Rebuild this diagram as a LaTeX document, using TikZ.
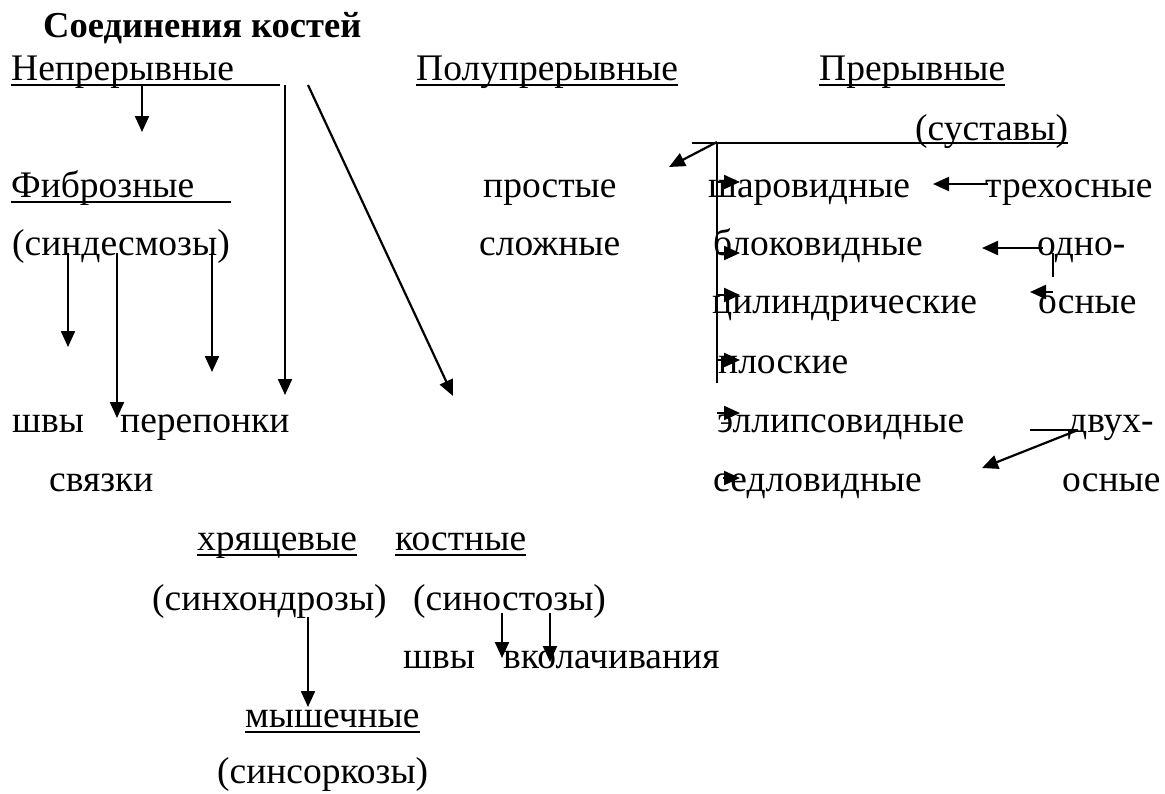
\documentclass[tikz,border=0pt]{standalone}
\usepackage{fontspec}
\setmainfont{Liberation Serif}
\usetikzlibrary{arrows.meta}
\begin{document}
\begin{tikzpicture}[x=1pt,y=-1pt,
  t/.style={anchor=base west,inner sep=0pt,font=\fontsize{37.5}{45}\selectfont},
  ttl/.style={anchor=base west,inner sep=0pt,font=\fontsize{36.5}{45}\selectfont\bfseries},
  ln/.style={line width=2.2pt},
  ar/.style={line width=2.2pt,-{Triangle[length=16pt,width=14pt]}}]
\useasboundingbox (0,0) rectangle (1165,793);
% title
\node[ttl] (title) at (43,37) {Соединения костей};
% row 1
\node[t] (nep) at (11,80) {Непрерывные};
\node[t] (polu) at (416,80) {Полупрерывные};
\node[t] (prer) at (819,80) {Прерывные};
\node[t] (sust) at (915,140) {(суставы)};
% row 3
\node[t] (fib) at (11,197) {Фиброзные};
\node[t] (prost) at (483,197) {простые};
\node[t] (shar) at (708,197) {шаровидные};
\node[t] (treh) at (985,197) {трехосные};
% row 4
\node[t] (sind) at (12,255) {(синдесмозы)};
\node[t] (slozh) at (479,255) {сложные};
\node[t] (blok) at (713,255) {блоковидные};
\node[t] (odno) at (1037,255) {одно-};
% row 5
\node[t] (cil) at (712,313) {цилиндрические};
\node[t] (osn1) at (1038,313) {осные};
% row 6
\node[t] (plos) at (718,373) {плоские};
% row 7
\node[t] (shvy) at (12,432) {швы};
\node[t] (perep) at (120,432) {перепонки};
\node[t] (ellip) at (717,432) {эллипсовидные};
\node[t] (dvuh) at (1068,432) {двух-};
% row 8
\node[t] (svyaz) at (49,491) {связки};
\node[t] (sedl) at (713,491) {седловидные};
\node[t] (osn2) at (1062,491) {осные};
% lower part
\node[t] (hryash) at (197,550) {хрящевые};
\node[t] (kost) at (395,550) {костные};
\node[t] (sinh) at (152,610) {(синхондрозы)};
\node[t] (sinost) at (413,610) {(синостозы)};
\node[t] (shvy2) at (403,668) {швы};
\node[t] (vkol) at (503,668) {вколачивания};
\node[t] (mysh) at (245,727) {мышечные};
\node[t] (sinsork) at (217,783) {(синсоркозы)};
% underlines
\coordinate (nepEnd) at (280,85);
\draw[ln] ([yshift=-5pt]nep.base west) -- (nepEnd);
\draw[ln] ([yshift=-5pt]polu.base west) -- ([yshift=-5pt]polu.base east);
\draw[ln] ([yshift=-5pt]prer.base west) -- ([yshift=-5pt]prer.base east);
\coordinate (sustStart) at (692,143);
\draw[ln] (sustStart) -- ([yshift=-3pt]sust.base east);
\coordinate (fibEnd) at (231,202);
\draw[ln] ([yshift=-5pt]fib.base west) -- (fibEnd);
\draw[ln] ([yshift=-5pt]hryash.base west) -- ([yshift=-5pt]hryash.base east);
\draw[ln] ([yshift=-5pt]kost.base west) -- ([yshift=-5pt]kost.base east);
\draw[ln] ([yshift=-5pt]mysh.base west) -- ([yshift=-5pt]mysh.base east);
% arrows from Непрерывные
\coordinate (a1s) at (142,86);  \coordinate (a1e) at (142,132);
\coordinate (a2s) at (285,85);  \coordinate (a2e) at (285,395);
\coordinate (a3s) at (308,85);  \coordinate (a3e) at (453,396);
\draw[ar] (a1s) -- (a1e);
\draw[ar] (a2s) -- (a2e);
\draw[ar] (a3s) -- (a3e);
% arrows from синдесмозы
\coordinate (b1s) at (68,253);  \coordinate (b1e) at (68,347);
\coordinate (b2s) at (117,253); \coordinate (b2e) at (117,418);
\coordinate (b3s) at (212,253); \coordinate (b3e) at (212,372);
\draw[ar] (b1s) -- (b1e);
\draw[ar] (b2s) -- (b2e);
\draw[ar] (b3s) -- (b3e);
% joints
\coordinate (j0) at (717,142);
\coordinate (jl) at (669,167);
\coordinate (jb) at (717,383);
\draw[ar] (j0) -- (jl);
\draw[ln] (j0) -- (jb);
\foreach \y/\x in {182/717,253/717,295/717,360/717,413/717,478/723}{
  \draw[ar] (\x,\y) -- (740,\y);
}
% axes
\coordinate (t1s) at (988,184); \coordinate (t1e) at (933,184);
\draw[ar] (t1s) -- (t1e);
\coordinate (o1s) at (1043,248); \coordinate (o1e) at (982,248);
\draw[ar] (o1s) -- (o1e);
\coordinate (tk1) at (1053,253); \coordinate (tk2) at (1053,277);
\draw[ln] (tk1) -- (tk2);
\coordinate (o2s) at (1053,292); \coordinate (o2e) at (1030,292);
\draw[ar] (o2s) -- (o2e);
\coordinate (d0) at (1030,430); \coordinate (d1) at (1078,430);
\coordinate (d2) at (982,468);
\draw[ln] (d0) -- (d1);
\draw[ar] (d1) -- (d2);
% lower arrows
\coordinate (c1s) at (308,617); \coordinate (c1e) at (308,707);
\draw[ar] (c1s) -- (c1e);
\coordinate (c2s) at (502,613); \coordinate (c2e) at (502,658);
\coordinate (c3s) at (550,613); \coordinate (c3e) at (550,662);
\draw[ar] (c2s) -- (c2e);
\draw[ar] (c3s) -- (c3e);
\end{tikzpicture}
\end{document}
